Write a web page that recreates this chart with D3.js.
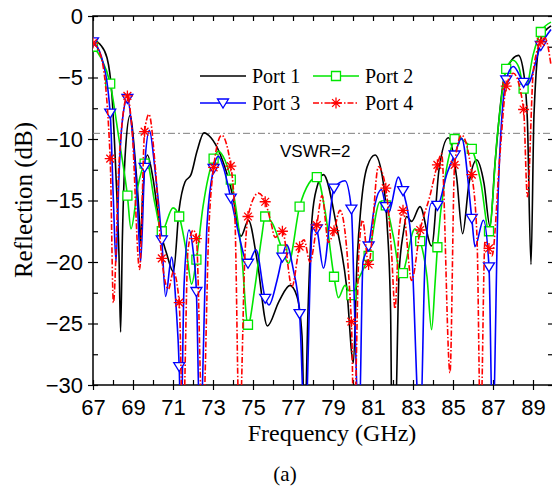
<!DOCTYPE html>
<html>
<head>
<meta charset="utf-8">
<script src="https://cdn.jsdelivr.net/npm/d3@7"></script>
<style>
  body { margin: 0; background: #fff; }
  .tick text { font-family: "Liberation Sans", Arial, sans-serif; font-size: 22px; fill: #000; }
  .tick line { stroke: #000; stroke-width: 1.2; }
  .serif { font-family: "Liberation Serif", "Times New Roman", "DejaVu Serif", serif; }
  .sans { font-family: "Liberation Sans", Arial, sans-serif; }
</style>
</head>
<body>
<svg id="chart" width="552" height="493"></svg>
<script>
// tick values
const xLabelTicks = [67, 69, 71, 73, 75, 77, 79, 81, 83, 85, 87, 89];
const xAllTicks = d3.range(67, 91, 1);
const yLabelTicks = [0, -5, -10, -15, -20, -25, -30];
const yAllTicks = d3.range(0, -30.1, -2.5);
const vswrLevel = -9.54;

// Port 1 (no markers)
const port1 = [
  [67.0,-1.9],[67.35,-2.3],[67.7,-3.4],[67.95,-6.5],[68.15,-13],[68.3,-19.5],[68.38,-25.7],[68.47,-18],
  [68.62,-11],[68.85,-8.1],[69.1,-11.5],[69.3,-16],[69.38,-18.5],[69.47,-15],[69.72,-11.3],[70.0,-13.2],
  [70.35,-17.3],[70.68,-19.3],[71.02,-20.8],[71.3,-15.8],[71.6,-13.5],[71.9,-12.9],[72.2,-11.0],[72.55,-9.5],
  [72.9,-9.9],[73.35,-11.2],[74.0,-14.7],[74.4,-17.9],[74.77,-16.6],[75.2,-19.8],[75.72,-25.2],[76.3,-23.2],
  [76.85,-21.9],[77.2,-22.8],[77.45,-26],[77.58,-34],[77.75,-24],[77.95,-16.5],[78.2,-13.9],[78.52,-12.9],
  [79.18,-17.1],[79.68,-22],[80.02,-28.2],[80.2,-20],[80.4,-15.5],[80.7,-12.3],[81.1,-11.3],[81.45,-12.9],
  [81.7,-16.8],[81.88,-24],[81.95,-34],[82.1,-34],[82.3,-21],[82.52,-17.6],[82.68,-16.3],[82.93,-16.7],
  [83.35,-15.5],[83.93,-18.7],[84.3,-12.5],[84.77,-9.9],[85.18,-13.1],[85.48,-17.7],[85.8,-13.6],[86.18,-11.7],
  [86.55,-13.6],[86.85,-17.1],[87.1,-12],[87.6,-4.7],[88.27,-3.2],[88.55,-4.8],[88.72,-8.5],[88.9,-20.2],
  [89.05,-8],[89.35,-2.0],[89.9,-0.8]
];

// Port 2
const port2 = [
  [67.4,-3.4],[68.3,-10],[68.9,-17.3],[69.25,-13.8],[69.68,-11.8],[70.1,-15.3],[71.0,-15.6],[71.7,-19.5],
  [71.93,-21.8],[72.5,-15.5],[73.27,-11.0],[73.5,-11.4],[74.43,-19.3],[75.1,-22],[75.43,-18],[75.95,-16.8],
  [76.77,-20.1],[77.8,-13.6],[78.6,-15.8],[79.27,-22.9],[79.6,-21.9],[80.3,-21.3],[81.35,-15.1],[82.0,-17.8],
  [82.42,-21.2],[83.1,-17.3],[83.7,-21.2],[83.93,-25.5],[84.1,-21.8],[84.6,-13.2],[85.2,-9.7],[85.5,-10.1],
  [86.4,-13.6],[87.2,-10],[88.0,-3.6],[88.3,-4.2],[88.62,-6.1],[89.0,-3.2],[89.9,-0.5]
];
const port2Marks = [
  [67.00,-2.5],[67.86,-5.5],[68.72,-14.6],[69.58,-12.0],[70.44,-17.5],[71.31,-16.3],[72.17,-19.8],
  [73.03,-11.6],[73.89,-13.3],[74.75,-25.1],[75.61,-16.3],[76.47,-19.0],[77.33,-15.5],[78.19,-13.1],
  [79.05,-21.2],[79.92,-22.7],[80.78,-19.5],[81.64,-15.4],[82.50,-20.9],[83.36,-18.3],[84.22,-18.8],
  [85.08,-10.0],[85.94,-10.8],[86.80,-17.5],[87.66,-4.3],[88.53,-5.9],[89.39,-1.3]
];

// Port 3
const port3 = [
  [67.4,-3.2],[68.02,-15],[68.15,-20],[68.3,-13],[68.45,-8.8],[68.95,-9.2],[69.2,-14.5],[69.38,-20],
  [69.82,-9.3],[70.1,-12.5],[70.63,-22.8],[70.93,-19.6],[71.15,-23.5],[71.4,-34],[71.55,-22],[71.8,-17.4],
  [72.0,-19],[72.35,-34],[72.7,-17],[73.27,-11.4],[73.5,-12.2],[74.2,-17.1],[75.15,-19.0],[75.8,-23.5],
  [76.2,-21.5],[76.68,-18.6],[77.0,-20.5],[77.6,-34],[77.95,-17.6],[78.05,-16.9],[78.52,-20.5],[79.6,-13.4],
  [80.08,-24],[80.3,-34],[80.5,-20],[81.1,-15.3],[81.42,-14.1],[81.78,-16.0],[82.27,-13.1],[82.9,-18],
  [83.6,-20],[83.93,-15.2],[84.7,-12.8],[85.43,-9.95],[86.1,-18.75],[86.52,-16.6],[86.98,-34],[87.27,-13.9],
  [88.02,-4.1],[88.7,-5.6],[89.9,-1.1]
];
const port3Marks = [
  [67.00,-2.1],[67.86,-7.9],[68.72,-6.7],[69.58,-12.3],[70.44,-18.2],[71.31,-28.5],[72.17,-22.4],
  [73.03,-12.4],[73.89,-14.8],[74.75,-20.1],[75.61,-22.95],[76.47,-19.6],[77.33,-24.2],[78.19,-17.3],
  [79.05,-14.0],[79.92,-15.7],[80.78,-18.7],[81.64,-15.5],[82.50,-14.2],[83.36,-34],[84.22,-15.4],
  [85.08,-11.3],[85.94,-16.45],[86.80,-20.4],[87.66,-5.2],[88.53,-5.4],[89.39,-2.4]
];

// Port 4
const port4 = [
  [67.4,-3.3],[68.02,-23.3],[68.3,-12],[68.95,-9.2],[69.33,-20.6],[69.8,-8.0],[70.1,-12],[70.77,-22.2],
  [71.02,-20.8],[71.5,-34],[71.75,-19],[72.02,-17.4],[72.48,-34],[72.8,-17],[73.43,-9.7],[74.1,-16.6],
  [74.32,-34],[74.6,-19.3],[75.27,-14.4],[75.9,-16.8],[76.1,-18.0],[76.95,-22.0],[77.55,-18.2],[77.85,-20.0],
  [78.45,-14.6],[78.77,-18.4],[79.35,-15.8],[80.05,-34],[80.3,-19],[80.48,-16.6],[81.27,-12.25],[81.93,-19.3],
  [82.1,-23.8],[82.3,-17.5],[82.93,-21.5],[83.85,-14.6],[84.43,-11.2],[84.85,-29],[85.43,-9.7],[86.2,-18],
  [86.38,-34],[86.6,-18.3],[86.95,-19.5],[87.35,-11.2],[88.02,-4.66],[88.72,-14.7],[89.02,-4.4],[89.6,-1.8],
  [89.9,-4.0]
];
const port4Marks = [
  [67.00,-2.2],[67.86,-11.6],[68.72,-6.5],[69.58,-9.4],[70.44,-19.7],[71.31,-23.3],[72.17,-18.1],
  [73.03,-12.3],[73.89,-12.2],[74.75,-16.3],[75.61,-15.1],[76.47,-17.5],[77.33,-18.75],[78.19,-17.0],
  [79.05,-17.45],[79.92,-24.85],[80.78,-20.2],[81.64,-14.0],[82.50,-15.8],[83.36,-17.4],[84.22,-12.1],
  [85.08,-12.1],[85.94,-12.9],[86.80,-18.9],[87.66,-5.7],[88.53,-7.6],[89.39,-2.1]
];

const svg = d3.select("#chart");
const plotLeft = 93, plotRight = 553, plotTop = 16, plotBottom = 385;

const x = d3.scaleLinear().domain([67, 90]).range([plotLeft, plotRight]);
const y = d3.scaleLinear().domain([-30, 0]).range([plotBottom, plotTop]);

svg.append("clipPath").attr("id", "plotclip")
  .append("rect").attr("x", plotLeft).attr("y", plotTop)
  .attr("width", plotRight - plotLeft).attr("height", plotBottom - plotTop);

// axes: outward ticks with labels, inward ticks without
svg.append("g").attr("transform", `translate(0,${plotBottom})`)
  .call(d3.axisBottom(x).tickValues(xLabelTicks).tickSize(5).tickPadding(9).tickFormat(d3.format("d")));
svg.append("g").attr("transform", `translate(0,${plotBottom})`)
  .call(d3.axisBottom(x).tickValues(xAllTicks).tickSize(-5).tickFormat(""));
svg.append("g").attr("transform", `translate(0,${plotTop})`)
  .call(d3.axisTop(x).tickValues(xAllTicks).tickSize(-5).tickFormat(""));
svg.append("g").attr("transform", `translate(${plotLeft},0)`)
  .call(d3.axisLeft(y).tickValues(yLabelTicks).tickSize(5).tickPadding(5).tickFormat(d3.format("d")));
svg.append("g").attr("transform", `translate(${plotLeft},0)`)
  .call(d3.axisLeft(y).tickValues(yAllTicks).tickSize(-5).tickFormat(""));
svg.append("g").attr("transform", `translate(${plotRight},0)`)
  .call(d3.axisRight(y).tickValues(yAllTicks).tickSize(-5).tickFormat(""));
svg.selectAll(".domain").remove();
svg.selectAll(".tick text").attr("font-family", null).attr("font-size", null);

svg.append("rect")
  .attr("x", plotLeft).attr("y", plotTop)
  .attr("width", plotRight - plotLeft).attr("height", plotBottom - plotTop)
  .attr("fill", "none").attr("stroke", "#000").attr("stroke-width", 1.5);

// VSWR=2 reference line
svg.append("line")
  .attr("x1", plotLeft).attr("x2", plotRight).attr("y1", y(vswrLevel)).attr("y2", y(vswrLevel))
  .attr("stroke", "#808080").attr("stroke-width", 1).attr("stroke-dasharray", "7,3,2,3");
svg.append("text").text("VSWR=2")
  .attr("class", "sans")
  .attr("x", 280).attr("y", 157)
  .style("font-size", "17px");

const line = d3.line().x(d => x(d[0])).y(d => y(d[1])).curve(d3.curveMonotoneX);
const merge = (a, b) => a.concat(b).sort((p, q) => p[0] - q[0]);

const starPath = (() => {
  let p = "";
  for (let i = 0; i < 4; i++) {
    const a = i * Math.PI / 4, r = 5.5;
    p += `M${-r * Math.cos(a)},${-r * Math.sin(a)}L${r * Math.cos(a)},${r * Math.sin(a)}`;
  }
  return p;
})();
const trianglePath = "M-5.5,-4L5.5,-4L0,5Z";
const squarePath = "M-4.5,-4.5L4.5,-4.5L4.5,4.5L-4.5,4.5Z";

const series = [
  { name: "Port 1", data: port1, marks: [], color: "#000000", dash: null, shape: null },
  { name: "Port 2", data: merge(port2, port2Marks), marks: port2Marks, color: "#00e600", dash: null, shape: squarePath },
  { name: "Port 3", data: merge(port3, port3Marks), marks: port3Marks, color: "#0000ff", dash: null, shape: trianglePath },
  { name: "Port 4", data: merge(port4, port4Marks), marks: port4Marks, color: "#ff0000", dash: "6,2,1.5,2", shape: starPath }
];

const plot = svg.append("g").attr("clip-path", "url(#plotclip)");

series.forEach(s => {
  plot.append("path")
    .datum(s.data)
    .attr("d", line)
    .attr("fill", "none")
    .attr("stroke", s.color)
    .attr("stroke-width", 1.6)
    .attr("stroke-dasharray", s.dash);
  plot.selectAll(null)
    .data(s.marks)
    .enter().append("path")
    .attr("transform", d => `translate(${x(d[0])},${y(d[1])})`)
    .attr("d", s.shape)
    .attr("fill", s.shape === starPath ? "none" : "#fff")
    .attr("stroke", s.color)
    .attr("stroke-width", 1.3);
});

// legend
const legendPos = [[200, 76], [313, 76], [200, 103], [313, 103]];
series.forEach((s, i) => {
  const [lx, ly] = legendPos[i];
  const g = svg.append("g");
  g.append("line").attr("x1", lx).attr("x2", lx + 46).attr("y1", ly).attr("y2", ly)
    .attr("stroke", s.color).attr("stroke-width", 1.6).attr("stroke-dasharray", s.dash);
  if (s.shape) {
    g.append("path").attr("transform", `translate(${lx + 23},${ly})`).attr("d", s.shape)
      .attr("fill", s.shape === starPath ? "none" : "#fff").attr("stroke", s.color).attr("stroke-width", 1.3);
  }
  g.append("text").text(s.name)
    .attr("class", "serif")
    .attr("x", lx + 52).attr("y", ly + 7)
    .style("font-size", "20px");
});

// titles
svg.append("text").text("Frequency (GHz)")
  .attr("class", "serif")
  .attr("x", 332).attr("y", 441).attr("text-anchor", "middle")
  .style("font-size", "24px");
svg.append("text").text("Reflection (dB)")
  .attr("class", "serif")
  .attr("transform", "translate(32,200) rotate(-90)").attr("text-anchor", "middle")
  .style("font-size", "25px");
svg.append("text").text("(a)")
  .attr("class", "serif")
  .attr("x", 285).attr("y", 481).attr("text-anchor", "middle")
  .style("font-size", "21px");
</script>
</body>
</html>
